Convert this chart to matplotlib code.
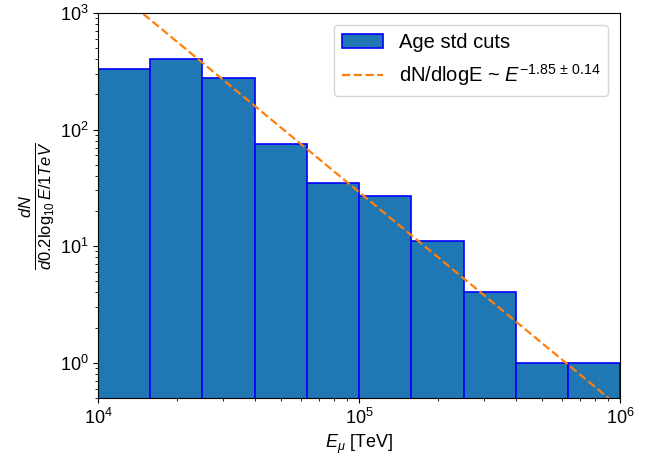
import numpy as np
import matplotlib.pyplot as plt

plt.rcParams['font.family'] = ['Liberation Sans', 'DejaVu Sans']
plt.rcParams['mathtext.fontset'] = 'custom'
plt.rcParams['mathtext.rm'] = 'Liberation Sans'
plt.rcParams['mathtext.it'] = 'Liberation Sans:italic'
plt.rcParams['mathtext.bf'] = 'Liberation Sans:bold'

# bin edges in log10(E/TeV) and counts per bin
log_edges = [4.0, 4.2, 4.4, 4.6, 4.8, 5.0, 5.2, 5.4, 5.6, 5.8, 6.0]
counts = [333, 405, 276, 75, 34.5, 27, 11, 4.0, 1.0, 1.0]

# power-law fit: norm at 1e5 TeV and index
fit_norm = 29.0
fit_index = -1.85
fit_err = 0.14

edges = 10 ** np.array(log_edges)

fig, ax = plt.subplots(figsize=(6.49, 4.62), dpi=100)
plt.subplots_adjust(left=0.151, right=0.956, top=0.972, bottom=0.139)

ax.hist(edges[:-1], bins=edges, weights=counts, color='#1f77b4',
        edgecolor='blue', linewidth=1.2, label='Age std cuts')

e = np.logspace(4, 6, 200)
ax.plot(e, fit_norm * (e / 1e5) ** fit_index, linestyle='--', color='#ff7f0e',
        linewidth=1.6,
        label=r'dN/dlogE ~ $E^{%.2f\,\pm\,%.2f}$' % (fit_index, fit_err))

ax.set_xscale('log')
ax.set_yscale('log')
ax.set_xlim(1e4, 1e6)
ax.set_ylim(0.5, 1e3)
ax.set_xlabel(r'$E_\mu$ [TeV]', fontsize=13)
ax.set_ylabel(r'$\frac{dN}{d0.2\log_{10}E/1TeV}$', fontsize=17, labelpad=2)
ax.tick_params(labelsize=13)
ax.legend(loc='upper right', fontsize=14.5, borderaxespad=0.6)

plt.savefig('out.png')
